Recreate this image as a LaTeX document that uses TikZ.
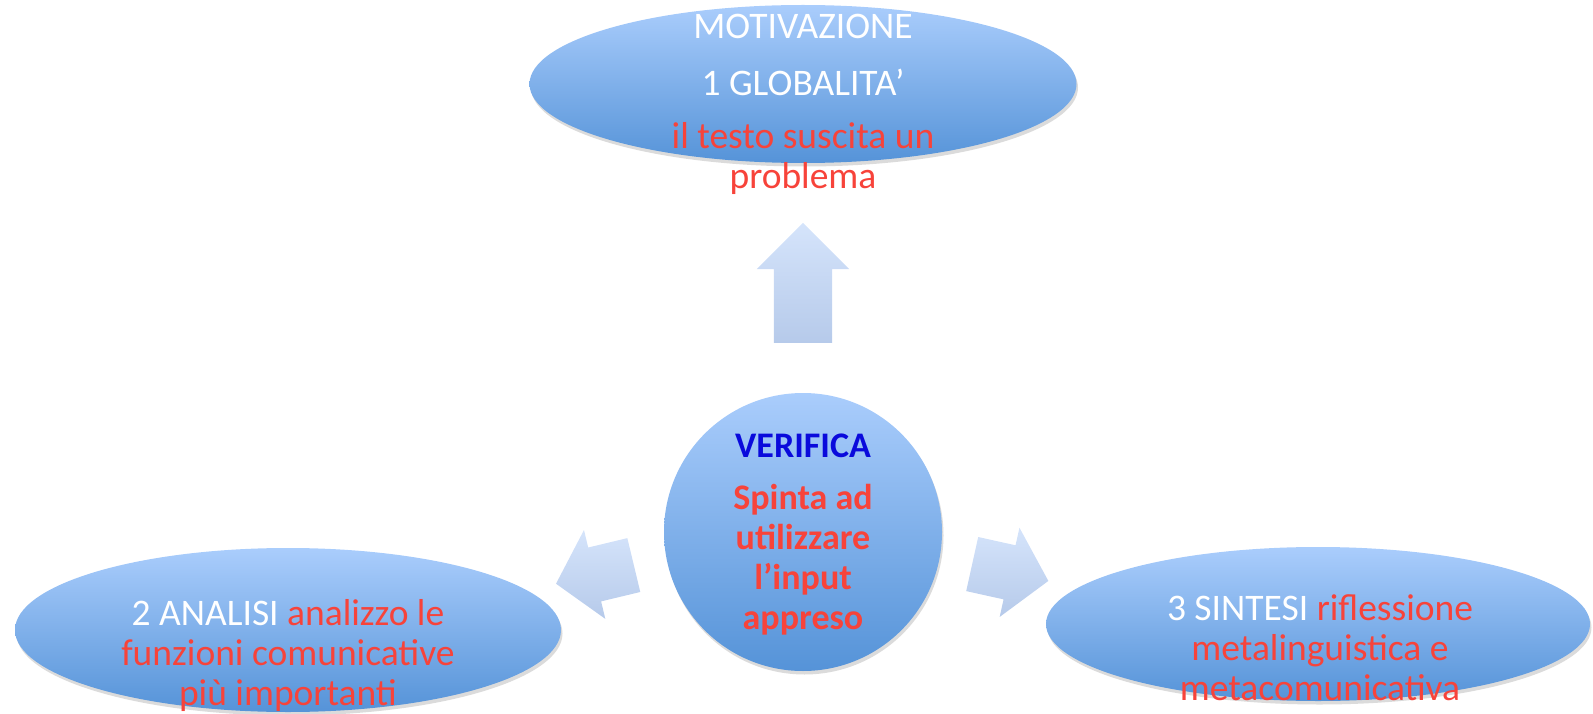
\documentclass[tikz,border=0pt]{standalone}
\usepackage{fontspec}
\setmainfont{Carlito}
\usepackage{tikz}
\usetikzlibrary{positioning, shapes.geometric, shapes.arrows, shadows}
\definecolor{ovaltop}{HTML}{AACDFC}
\definecolor{ovalbottom}{HTML}{5593D8}
\definecolor{arrowtop}{HTML}{D5E4FB}
\definecolor{arrowbottom}{HTML}{B6CAEA}
\definecolor{textred}{HTML}{F7433A}
\definecolor{textblue}{HTML}{0A0ADC}

\tikzset{
  ovalbox/.style={ellipse, draw=none, inner sep=0pt, top color=ovaltop, bottom color=ovalbottom,
    drop shadow={shadow xshift=1.5pt, shadow yshift=-3.5pt, opacity=0.14, fill=black}},
  ovaltext/.style={align=center, inner sep=0pt, anchor=north, text=white,
    font=\fontsize{37.5}{40}\selectfont},
  bluearrow/.style={single arrow, draw=none, inner sep=0pt, anchor=tail, text height=#1,
    text depth=0pt, top color=arrowtop, bottom color=arrowbottom}
}

\begin{document}
\begin{tikzpicture}[x=1pt, y=-1pt]
  \useasboundingbox (0,0) rectangle (1593,714);

  % shapes
  \node[ovalbox, minimum width=547pt, minimum height=158pt] (motiv) at (803,84) {};
  \node[ovalbox, minimum width=546pt, minimum height=164pt] (analisi) at (288,630) {};
  \node[ovalbox, minimum width=544pt, minimum height=154pt] (sintesi) at (1318,624) {};
  \node[ovalbox, circle, minimum size=278pt] (verifica) at (803,532) {};

  % block arrows
  \node[bluearrow=58pt, single arrow head extend=17pt, minimum height=120pt, rotate=90]
    (uparrow) at (803,343) {};
  \node[bluearrow=55pt, single arrow head extend=18pt, single arrow tip angle=98,
    minimum height=80pt, rotate=193.5] (leftarrow) at (634,565) {};
  \node[bluearrow=55pt, single arrow head extend=18pt, single arrow tip angle=98,
    minimum height=78pt, rotate=-12.5] (rightarrow) at (972,564) {};

  % texts
  \node[ovaltext] (motivtext) at (803,14) {MOTIVAZIONE\\[17pt]1 GLOBALITA’\\[13pt]
    \textcolor{textred}{il testo suscita un}\\\textcolor{textred}{problema}};
  \node[ovaltext, text=textred, font=\bfseries\fontsize{36}{40}\selectfont] (verificatext)
    at (803,434) {\textcolor{textblue}{VERIFICA}\\[12pt]Spinta ad\\utilizzare\\l’input\\appreso};
  \node[ovaltext] (analisitext) at (288,599) {2 ANALISI \textcolor{textred}{analizzo le}\\
    \textcolor{textred}{funzioni comunicative}\\\textcolor{textred}{più importanti}};
  \node[ovaltext] (sintesitext) at (1320,594) {3 SINTESI \textcolor{textred}{riflessione}\\
    \textcolor{textred}{metalinguistica e}\\\textcolor{textred}{metacomunicativa}};
\end{tikzpicture}
\end{document}
